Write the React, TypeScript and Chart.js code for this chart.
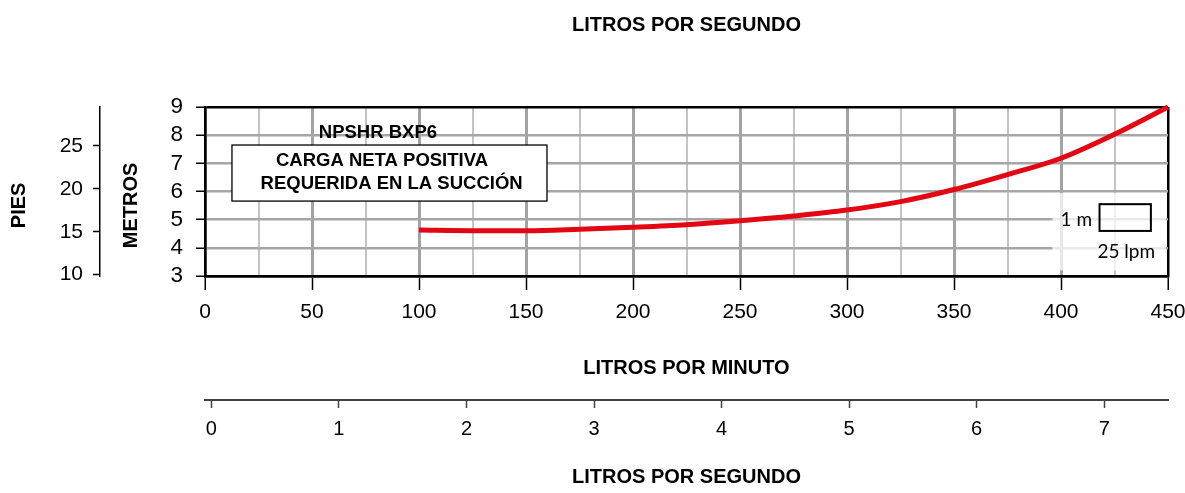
import React, { useEffect, useRef } from 'react';
import { Chart, registerables } from 'chart.js';

Chart.register(...registerables);

// ---- data ----
const LPM = [100, 125, 150, 175, 200, 225, 250, 275, 300, 325, 350, 375, 400, 425, 450];
const NPSHR_M = [4.63, 4.61, 4.61, 4.66, 4.73, 4.82, 4.96, 5.13, 5.34, 5.64, 6.07, 6.6, 7.18, 8.03, 9.0];
const LPM_TICKS = [0, 25, 50, 75, 100, 125, 150, 175, 200, 225, 250, 275, 300, 325, 350, 375, 400, 425, 450];
const METER_TICKS = [3, 4, 5, 6, 7, 8, 9];
const FEET_TICKS = [10, 15, 20, 25];
const LPS_TICKS = [0, 1, 2, 3, 4, 5, 6, 7];
const FT_PER_M = 3.28084;

const TITLE_TOP = 'LITROS POR SEGUNDO';
const TITLE_X = 'LITROS POR MINUTO';
const TITLE_LPS = 'LITROS POR SEGUNDO';
const TITLE_M = 'METROS';
const TITLE_FT = 'PIES';
const BOX_HEADER = 'NPSHR BXP6';
const BOX_LINES = ['CARGA NETA POSITIVA', 'REQUERIDA EN LA SUCCIÓN'];
const SCALE_Y_LABEL = '1 m';
const SCALE_X_LABEL = '25 lpm';

const SANS = "'Liberation Sans', Arial, sans-serif";
const CAL = "Lato, 'Open Sans', sans-serif";

const annotPlugin = {
  id: 'annot',
  beforeDatasetsDraw(chart: any) {
    const { ctx } = chart;
    const x = chart.scales.x;
    const y = chart.scales.y;
    ctx.save();
    // faded area behind the scale legend
    const ox1 = x.getPixelForValue(396);
    const ox2 = x.getPixelForValue(449);
    const oy1 = y.getPixelForValue(5.95);
    const oy2 = y.getPixelForValue(3.2);
    ctx.fillStyle = 'rgba(255,255,255,0.75)';
    ctx.fillRect(ox1, oy1, ox2 - ox1, oy2 - oy1);
    // scale legend box: 25 lpm x 1 m
    const bx1 = x.getPixelForValue(418);
    const bx2 = x.getPixelForValue(442);
    const by1 = y.getPixelForValue(5.55);
    const by2 = y.getPixelForValue(4.6);
    ctx.strokeStyle = '#000';
    ctx.lineWidth = 2;
    ctx.strokeRect(bx1, by1, bx2 - bx1, by2 - by1);
    ctx.fillStyle = '#000';
    ctx.font = `19px ${CAL}`;
    ctx.textBaseline = 'middle';
    ctx.textAlign = 'right';
    ctx.fillText(SCALE_Y_LABEL, x.getPixelForValue(414.5), y.getPixelForValue(4.98));
    ctx.textAlign = 'center';
    ctx.fillText(SCALE_X_LABEL, x.getPixelForValue(430.5), y.getPixelForValue(3.85));

    // text box
    const tx1 = x.getPixelForValue(12.6);
    const tx2 = x.getPixelForValue(159.8);
    const ty1 = y.getPixelForValue(7.65);
    const ty2 = y.getPixelForValue(5.66);
    ctx.fillStyle = '#fff';
    ctx.fillRect(tx1, ty1, tx2 - tx1, ty2 - ty1);
    ctx.strokeStyle = '#000';
    ctx.lineWidth = 1.3;
    ctx.strokeRect(tx1, ty1, tx2 - tx1, ty2 - ty1);
    ctx.fillStyle = '#000';
    ctx.font = `bold 18.5px ${SANS}`;
    ctx.textAlign = 'center';
    ctx.fillText(BOX_HEADER, x.getPixelForValue(80.8), y.getPixelForValue(8.08));
    ctx.fillText(BOX_LINES[0], x.getPixelForValue(82.7), y.getPixelForValue(7.08));
    ctx.fillText(BOX_LINES[1], x.getPixelForValue(87.2), y.getPixelForValue(6.27));
    ctx.restore();
  },
};

export default function App() {
  const ref = useRef<HTMLCanvasElement | null>(null);

  useEffect(() => {
    if (!ref.current) return;
    Chart.defaults.color = '#000';
    Chart.defaults.font.family = SANS;
    const titleFont = { family: SANS, size: 20, weight: 'bold' as const };
    const chart = new Chart(ref.current, {
      type: 'line',
      data: {
        datasets: [
          {
            label: 'NPSHR',
            data: LPM.map((v, i) => ({ x: v, y: NPSHR_M[i] })),
            borderColor: '#e30613',
            backgroundColor: '#e30613',
            borderWidth: 5,
            pointRadius: 0,
            cubicInterpolationMode: 'monotone',
            clip: false as any,
            xAxisID: 'x',
            yAxisID: 'y',
          },
        ],
      },
      options: {
        responsive: false,
        animation: false,
        events: [],
        layout: { padding: { left: 0, right: 17, top: 0, bottom: 0 } },
        plugins: {
          legend: { display: false },
          tooltip: { enabled: false },
          title: {
            display: true,
            text: TITLE_TOP,
            fullSize: false,
            color: '#000',
            font: titleFont,
            padding: { top: 13, bottom: 70 },
          },
        },
        scales: {
          x: {
            type: 'linear',
            position: 'bottom',
            weight: 0,
            min: 0,
            max: 450,
            afterBuildTicks: (s: any) => {
              s.ticks = LPM_TICKS.map((v) => ({ value: v }));
            },
            afterFit: (s: any) => {
              s.height = 124;
              s.paddingLeft = 0;
              s.paddingRight = 0;
            },
            ticks: {
              color: '#000',
              font: { family: SANS, size: 21 },
              padding: 9.5,
              maxRotation: 0,
              autoSkip: false,
              callback: (v: any) => (Number(v) % 50 === 0 ? String(v) : ''),
            },
            grid: {
              color: (c: any) => {
                const v = c.tick ? c.tick.value : 0;
                if (v === 450 || v === 0) return '#000';
                return v % 50 === 0 ? '#a3a3a3' : '#c4c4c4';
              },
              lineWidth: (c: any) => {
                const v = c.tick ? c.tick.value : 0;
                if (v === 450 || v === 0) return 2.5;
                return v % 50 === 0 ? 3 : 2;
              },
              tickColor: (c: any) => {
                const v = c.tick ? c.tick.value : 0;
                return v % 50 === 0 ? '#000' : 'rgba(0,0,0,0)';
              },
              tickWidth: 1.5,
              tickLength: 14,
            },
            border: { display: true, color: '#000', width: 2.5 },
            title: {
              display: true,
              text: TITLE_X,
              color: '#000',
              font: titleFont,
              padding: { top: 0, bottom: 20 },
            },
          },
          xLps: {
            type: 'linear',
            position: 'bottom',
            weight: 1,
            min: -0.05,
            max: 7.5,
            afterBuildTicks: (s: any) => {
              s.ticks = LPS_TICKS.map((v) => ({ value: v }));
            },
            afterFit: (s: any) => {
              s.height = 93;
              s.paddingLeft = 0;
              s.paddingRight = 0;
            },
            ticks: {
              color: '#000',
              font: { family: SANS, size: 20 },
              padding: 9,
              maxRotation: 0,
              autoSkip: false,
            },
            grid: {
              drawOnChartArea: false,
              tickColor: '#404040',
              tickWidth: 1.5,
              tickLength: 8,
            },
            border: { display: true, color: '#404040', width: 2 },
            title: {
              display: true,
              text: TITLE_LPS,
              color: '#000',
              font: titleFont,
              padding: { top: 0, bottom: 4 },
            },
          },
          y: {
            type: 'linear',
            position: 'left',
            weight: 0,
            min: 3,
            max: 9,
            afterBuildTicks: (s: any) => {
              s.ticks = METER_TICKS.map((v) => ({ value: v }));
            },
            afterFit: (s: any) => {
              s.width = 105;
              s.paddingTop = 0;
              s.paddingBottom = 0;
            },
            ticks: {
              color: '#000',
              font: { family: SANS, size: 22.5 },
              padding: 13,
              autoSkip: false,
            },
            grid: {
              color: (c: any) => {
                const v = c.tick ? c.tick.value : 0;
                return v === 9 || v === 3 ? '#000' : '#a6a6a6';
              },
              lineWidth: 2.5,
              tickColor: '#000',
              tickWidth: 1.5,
              tickLength: 9,
            },
            border: { display: true, color: '#000', width: 2.5 },
            title: {
              display: true,
              text: TITLE_M + '     ',
              color: '#000',
              font: titleFont,
              padding: { top: 19, bottom: 0 },
            },
          },
          yFt: {
            type: 'linear',
            position: 'left',
            weight: 1,
            min: 3 * FT_PER_M,
            max: 9 * FT_PER_M,
            afterBuildTicks: (s: any) => {
              s.ticks = FEET_TICKS.map((v) => ({ value: v }));
            },
            afterFit: (s: any) => {
              s.width = 100;
              s.paddingTop = 0;
              s.paddingBottom = 0;
            },
            ticks: {
              color: '#000',
              font: { family: SANS, size: 21 },
              padding: 10,
              autoSkip: false,
            },
            grid: {
              drawOnChartArea: false,
              tickColor: '#000',
              tickWidth: 1.5,
              tickLength: 7,
            },
            border: { display: true, color: '#000', width: 1.5 },
            title: {
              display: true,
              text: TITLE_FT + '     ',
              color: '#000',
              font: titleFont,
              padding: { top: 7, bottom: 0 },
            },
          },
        },
      } as any,
      plugins: [annotPlugin],
    });
    return () => chart.destroy();
  }, []);

  return (
    <div style={{ position: 'absolute', left: 0, top: 0, width: 1185, height: 493, background: '#fff' }}>
      <canvas ref={ref} width={1185} height={493} style={{ display: 'block' }} />
    </div>
  );
}
